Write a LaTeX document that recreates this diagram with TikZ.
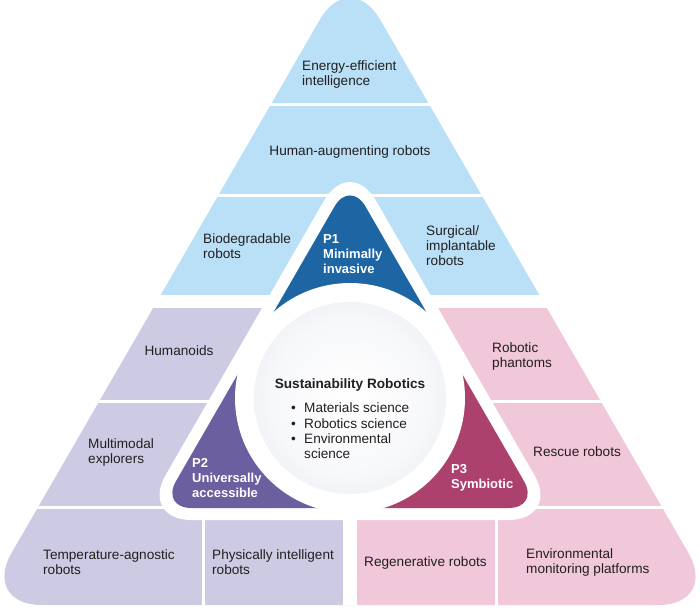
\documentclass[tikz,border=0pt]{standalone}
\usepackage{fontspec}
\setmainfont{Liberation Sans}
\definecolor{cblue}{HTML}{B9E0F7}
\definecolor{cpurp}{HTML}{CDCBE4}
\definecolor{cpink}{HTML}{F1C7DA}
\definecolor{pone}{HTML}{1E66A3}
\definecolor{ptwo}{HTML}{6C5FA0}
\definecolor{pthree}{HTML}{AC416D}
\definecolor{txt}{HTML}{231F20}
\definecolor{sph}{HTML}{C3CAD7}
\definecolor{sphmid}{HTML}{E4E7ED}
\definecolor{sphin}{HTML}{F7F8FA}
\pgfdeclareradialshading{sphere}{\pgfpoint{0bp}{0bp}}{color(0bp)=(white); color(20bp)=(sphin); color(38bp)=(sphmid); color(50bp)=(sph)}
\tikzset{
  lbl/.style={font=\fontsize{13.6}{15}\selectfont, text=txt, inner sep=0pt, align=left, anchor=west},
  clbl/.style={font=\fontsize{13.6}{15}\selectfont, text=txt, inner sep=0pt, align=center},
  plbl/.style={font=\fontsize{13}{15}\selectfont\bfseries, text=white, inner sep=0pt, align=left, anchor=west},
}
\begin{document}
\begin{tikzpicture}[x=1pt,y=-1pt]
\useasboundingbox[fill=white] (0,0) rectangle (700,610);
% outer pyramid cells
\begin{scope}
\clip[rounded corners=60] (165.75,286.25) -- (350,-32.5) -- (718.5,605) -- (-18.5,605) -- cycle;
\fill[cblue] (-30,-40) rectangle (730,295);
\fill[cpurp] (-30,308) rectangle (350,620);
\fill[cpink] (350,308) rectangle (730,620);
\fill[white] (-30,102.5) rectangle (730,105.5);
\fill[white] (-30,193.5) rectangle (730,196.5);
\fill[white] (-30,399.5) rectangle (730,402.5);
\fill[white] (-30,506) rectangle (730,509);
\fill[white] (202,509) rectangle (205,620);
\fill[white] (495,509) rectangle (498,620);
\fill[white] (343,509) rectangle (357,620);
\end{scope}
% white central region
\fill[white, rounded corners=52] (244.85,337.85) -- (350,155.7) -- (560.3,520) -- (139.7,520) -- cycle;
% P shapes
\begin{scope}
\clip (350,398) -- (66,236) -- (66,100) -- (634,100) -- (634,236) -- cycle;
\fill[pone, rounded corners=31] (255.25,343.85) -- (350,179.7) -- (539.5,508) -- (160.5,508) -- cycle;
\end{scope}
\begin{scope}
\clip (350,398) -- (66,236) -- (66,580) -- (350,580) -- cycle;
\fill[ptwo, rounded corners=31] (255.25,343.85) -- (350,179.7) -- (539.5,508) -- (160.5,508) -- cycle;
\end{scope}
\begin{scope}
\clip (350,398) -- (634,236) -- (634,580) -- (350,580) -- cycle;
\fill[pthree, rounded corners=31] (255.25,343.85) -- (350,179.7) -- (539.5,508) -- (160.5,508) -- cycle;
\end{scope}
\fill[white] (350,398) circle (115pt);
\shade[shading=sphere] (350,398) circle (96pt);
% labels
\node[lbl] (ee) at (302,74.5) {Energy-efficient\\intelligence};
\node[clbl] (ha) at (350,152) {Human-augmenting robots};
\node[lbl] (bio) at (203,246.5) {Biodegradable\\robots};
\node[lbl] (sur) at (426,246) {Surgical/\\implantable\\robots};
\node[plbl] (p1) at (323,254) {P1\\Minimally\\invasive};
\node[clbl] (hum) at (179,351) {Humanoids};
\node[lbl] (mm) at (88,452) {Multimodal\\explorers};
\node[lbl] (ta) at (43,562) {Temperature-agnostic\\robots};
\node[lbl] (pi) at (212,562) {Physically intelligent\\robots};
\node[plbl] (p2) at (192,478) {P2\\Universally\\accessible};
\node[lbl] (rp) at (492,356) {Robotic\\phantoms};
\node[lbl] (rr) at (533,452) {Rescue robots};
\node[lbl] (rg) at (364,563) {Regenerative robots};
\node[lbl] (em) at (526,562) {Environmental\\monitoring platforms};
\node[plbl] (p3) at (451,478) {P3\\Symbiotic};
\node[clbl, font=\fontsize{13.6}{15}\selectfont\bfseries] (sr) at (350,385) {Sustainability Robotics};
\node[lbl, font=\fontsize{13.6}{15.3}\selectfont] (list) at (291,431) {\makebox[13pt][l]{\textbullet}Materials science\\\makebox[13pt][l]{\textbullet}Robotics science\\\makebox[13pt][l]{\textbullet}Environmental\\\hspace*{13pt}science};
\end{tikzpicture}
\end{document}
